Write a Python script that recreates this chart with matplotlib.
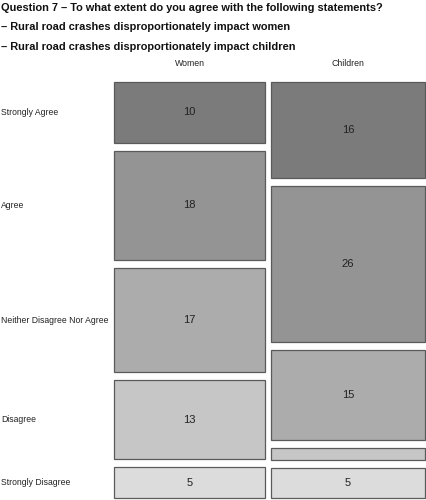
import matplotlib
matplotlib.use("Agg")
import matplotlib.pyplot as plt

categories = ["Strongly Agree", "Agree", "Neither Disagree Nor Agree", "Disagree", "Strongly Disagree"]
groups = ["Women", "Children"]
women = [10, 18, 17, 13, 5]
children = [16, 26, 15, 2, 5]
colors = ["#7b7b7b", "#949494", "#acacac", "#c6c6c6", "#dcdcdc"]
title_lines = ["Question 7 – To what extent do you agree with the following statements?",
               "– Rural road crashes disproportionately impact women",
               "– Rural road crashes disproportionately impact children"]

W, H = 426, 500
fig = plt.figure(figsize=(W / 100, H / 100), dpi=100)
fig.patch.set_facecolor("white")
plt.rcParams["font.family"] = ["Liberation Sans", "DejaVu Sans"]

# mosaic axes region (pixels)
x0, x1, y0, y1 = 114, 425, 81.5, 498
ax = fig.add_axes([x0 / W, 1 - y1 / H, (x1 - x0) / W, (y1 - y0) / H])
ax.set_xlim(0, 1)
ax.set_ylim(0, 1)
ax.axis("off")

gy = 8 / (y1 - y0)
gx = 6 / (x1 - x0)
data = [women, children]
totals = [sum(d) for d in data]
avail_w = 1 - gx * (len(data) - 1)
avail_h = 1 - gy * (len(categories) - 1)

xl = 0.0
for j, vals in enumerate(data):
    w = totals[j] / sum(totals) * avail_w
    top = 1.0
    for i, v in enumerate(vals):
        h = v / totals[j] * avail_h
        bars = ax.bar(xl, h, bottom=top - h, width=w, align="edge",
                      color=colors[i], edgecolor="#5a5a5a", linewidth=0.9)
        for b in bars:
            b.set_clip_on(False)
        if h * (y1 - y0) > 16:
            ax.text(xl + w / 2, top - h / 2, str(v), ha="center", va="center",
                    fontsize=8, color="#222222")
        if j == 0:
            fig.text(1 / W, 1 - (y0 + (1 - (top - h / 2)) * (y1 - y0)) / H, categories[i],
                     ha="left", va="center", fontsize=6.2, color="#222222")
        top -= h + gy
    fig.text((x0 + (xl + w / 2) * (x1 - x0)) / W, 1 - 64 / H, groups[j],
             ha="center", va="center", fontsize=6.3, color="#222222")
    xl += w + gx

ys = [8, 27, 47]
for t, y in zip(title_lines, ys):
    fig.text(1 / W, 1 - y / H, t, ha="left", va="center", fontsize=7.95,
             fontweight="bold", color="#111111")

fig.savefig("out.png", dpi=100, facecolor="white")
